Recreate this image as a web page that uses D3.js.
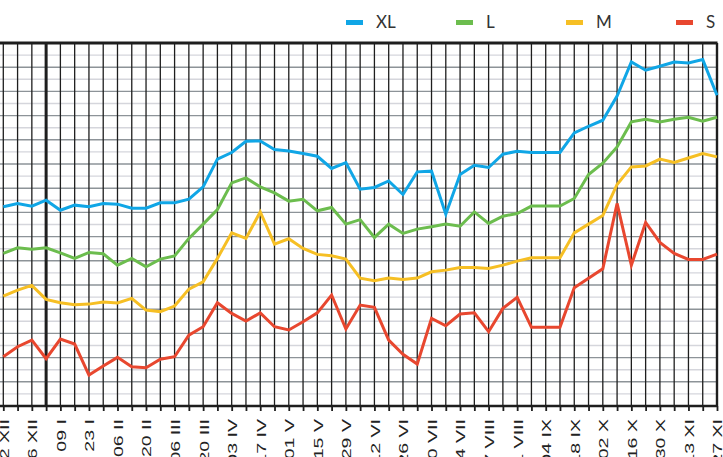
<!DOCTYPE html>
<html>
<head>
<meta charset="utf-8">
<script src="https://cdn.jsdelivr.net/npm/d3@7"></script>
<style>
  body { margin: 0; background: #fff; }
  svg { display: block; }
</style>
</head>
<body>
<div id="chart"></div>
<script>
// first week shown, one value per week after that
const startWeek = "2016-12-12";
const romanMonths = ["I", "II", "III", "IV", "V", "VI", "VII", "VIII", "IX", "X", "XI", "XII"];
const seriesNames = ["XL", "L", "M", "S"];
const seriesColors = ["#10a6e6", "#6cbd4e", "#f6bf24", "#e8472f"];

const xlValues = [16.46, 16.74, 16.52, 17.01, 16.18, 16.60, 16.46, 16.74, 16.68, 16.35,
  16.35, 16.79, 16.79, 17.09, 18.11, 20.40, 20.95, 21.88, 21.91, 21.20,
  21.08, 20.87, 20.64, 19.63, 20.12, 17.92, 18.06, 18.60, 17.48, 19.35,
  19.41, 15.85, 19.13, 19.90, 19.71, 20.81, 21.06, 20.95, 20.95, 20.95,
  22.57, 23.12, 23.62, 25.62, 28.43, 27.75, 28.08, 28.43, 28.35, 28.63, 25.68];
const lValues = [12.61, 13.07, 12.96, 13.07, 12.66, 12.20, 12.69, 12.58, 11.64, 12.20,
  11.50, 12.14, 12.41, 13.85, 15.03, 16.24, 18.44, 18.85, 18.11, 17.61,
  16.93, 17.09, 16.13, 16.41, 15.03, 15.40, 13.93, 15.03, 14.26, 14.62,
  14.81, 15.03, 14.86, 16.04, 15.09, 15.69, 15.91, 16.52, 16.52, 16.52,
  17.15, 19.13, 20.07, 21.41, 23.48, 23.70, 23.48, 23.70, 23.86, 23.53, 23.86];
const mValues = [9.08, 9.58, 9.97, 8.81, 8.53, 8.37, 8.42, 8.59, 8.51, 8.89,
  7.93, 7.79, 8.26, 9.66, 10.26, 12.20, 14.31, 13.85, 16.04, 13.38,
  13.82, 13.02, 12.53, 12.41, 12.14, 10.57, 10.35, 10.57, 10.46, 10.57,
  11.09, 11.23, 11.45, 11.45, 11.37, 11.64, 11.97, 12.25, 12.25, 12.25,
  14.31, 15.03, 15.75, 18.31, 19.76, 19.84, 20.40, 20.12, 20.50, 20.87, 20.59];
const sValues = [4.07, 4.90, 5.45, 3.91, 5.53, 5.12, 2.56, 3.30, 4.02, 3.25,
  3.16, 3.86, 4.07, 5.86, 6.55, 8.53, 7.65, 7.02, 7.70, 6.55,
  6.28, 6.96, 7.70, 9.17, 6.36, 8.34, 8.15, 5.45, 4.27, 3.47,
  7.24, 6.63, 7.60, 7.70, 6.14, 8.07, 8.98, 6.50, 6.50, 6.50,
  9.77, 10.55, 11.34, 16.74, 11.64, 15.17, 13.52, 12.61, 12.11, 12.11, 12.55];

const yDomain = [0, 30];

class WeeklyLineChart {
  constructor(_config, _series) {
    this.config = {
      parentElement: _config.parentElement,
      containerWidth: _config.containerWidth || 723,
      containerHeight: _config.containerHeight || 457,
      margin: _config.margin || { top: 43, right: 6, bottom: 51, left: 3.3 },
    };
    this.series = _series;
    this.initVis();
  }

  initVis() {
    let vis = this;

    vis.width = vis.config.containerWidth - vis.config.margin.left - vis.config.margin.right;
    vis.height = vis.config.containerHeight - vis.config.margin.top - vis.config.margin.bottom;

    vis.dates = d3.range(vis.series[0].values.length)
      .map((i) => d3.utcDay.offset(new Date(startWeek), 7 * i));

    vis.xScale = d3.scaleUtc()
      .domain(d3.extent(vis.dates))
      .range([0, vis.width]);
    vis.yScale = d3.scaleLinear()
      .domain(yDomain)
      .range([vis.height, 0]);

    vis.root = d3.select(vis.config.parentElement)
      .append("svg")
      .attr("width", vis.config.containerWidth)
      .attr("height", vis.config.containerHeight);

    vis.svg = vis.root.append("g")
      .attr("transform", `translate(${vis.config.margin.left},${vis.config.margin.top})`);

    this.renderVis();
  }

  renderVis() {
    let vis = this;
    const left = -vis.config.margin.left;

    // horizontal grid, every second line darker
    const gridValues = d3.range(yDomain[0] + 1, yDomain[1]);
    vis.svg.append("g")
      .selectAll("line")
      .data(gridValues)
      .join("line")
      .attr("x1", left)
      .attr("x2", vis.width)
      .attr("y1", (d) => vis.yScale(d))
      .attr("y2", (d) => vis.yScale(d))
      .attr("stroke", (d) => (d % 2 === 0 ? "#8d9398" : "#d5d6dc"))
      .attr("stroke-width", 1.4);

    // vertical week lines, the first week of the new year is thicker
    const newYear = vis.dates.find((d) => d.getUTCFullYear() !== vis.dates[0].getUTCFullYear());
    const lastDate = vis.dates[vis.dates.length - 1];
    vis.svg.append("g")
      .selectAll("line")
      .data(vis.dates)
      .join("line")
      .attr("x1", (d) => vis.xScale(d))
      .attr("x2", (d) => vis.xScale(d))
      .attr("y1", 0)
      .attr("y2", vis.height)
      .attr("stroke", "#1e1e1e")
      .attr("stroke-width", (d) => (+d === +newYear ? 3 : +d === +lastDate ? 2.4 : 1.3));

    // series
    const line = d3.line()
      .x((d, i) => vis.xScale(vis.dates[i]))
      .y((d) => vis.yScale(d));
    vis.svg.append("g")
      .selectAll("path")
      .data(vis.series)
      .join("path")
      .attr("d", (d) => line(d.values))
      .attr("fill", "none")
      .attr("stroke", (d) => d.color)
      .attr("stroke-width", 3)
      .attr("stroke-linejoin", "miter");

    // top border and baseline
    vis.svg.append("line")
      .attr("x1", left).attr("x2", vis.width + 0.5)
      .attr("y1", 0).attr("y2", 0)
      .attr("stroke", "#1e1e1e").attr("stroke-width", 3);
    vis.svg.append("line")
      .attr("x1", left).attr("x2", vis.width + 0.5)
      .attr("y1", vis.height).attr("y2", vis.height)
      .attr("stroke", "#1e1e1e").attr("stroke-width", 2.6);

    const formatWeek = (d) => d3.utcFormat("%d")(d) + " " + romanMonths[d.getUTCMonth()];
    const xAxis = d3.axisBottom(vis.xScale)
      .tickValues(vis.dates)
      .tickSize(5)
      .tickSizeOuter(0)
      .tickFormat((d, i) => (i % 2 === 0 ? formatWeek(d) : ""));

    const axisG = vis.svg.append("g")
      .attr("transform", `translate(0,${vis.height})`)
      .call(xAxis);
    axisG.select(".domain").remove();
    axisG.selectAll(".tick line")
      .attr("stroke", "#1e1e1e")
      .attr("stroke-width", 1.8);
    axisG.selectAll(".tick text")
      .attr("x", -9)
      .attr("y", 0)
      .attr("dy", "0.36em")
      .attr("transform", "rotate(-90) scale(1.45,1)")
      .style("text-anchor", "end")
      .style("font-family", "'Liberation Sans', Arial, sans-serif")
      .style("font-size", "13.5px")
      .style("fill", "#222");

    // legend
    const legend = vis.root.append("g")
      .selectAll("g")
      .data(vis.series)
      .join("g")
      .attr("transform", (d, i) => `translate(${346 + i * 110},0)`);
    legend.append("rect")
      .attr("x", 0)
      .attr("y", 20)
      .attr("width", 17)
      .attr("height", 5)
      .attr("fill", (d) => d.color);
    legend.append("text")
      .attr("x", 30)
      .attr("y", 28)
      .text((d) => d.name)
      .style("font-family", "Lato, sans-serif")
      .style("font-size", "17px")
      .style("fill", "#333");
  }
}

const allValues = [xlValues, lValues, mValues, sValues];
const chartSeries = seriesNames.map((name, i) => ({
  name: name,
  color: seriesColors[i],
  values: allValues[i],
}));

new WeeklyLineChart({ parentElement: "#chart" }, chartSeries);
</script>
</body>
</html>
